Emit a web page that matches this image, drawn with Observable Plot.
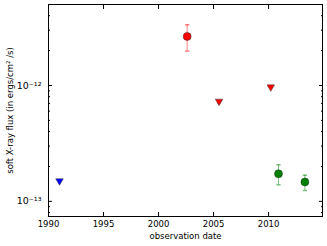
<!DOCTYPE html>
<html><head><meta charset="utf-8">
<script src="https://cdn.jsdelivr.net/npm/d3@7"></script>
<script src="https://cdn.jsdelivr.net/npm/@observablehq/plot@0.6"></script>
<style>body{margin:0;background:#fff} svg{display:block}</style>
</head><body><div id="chart"></div>
<script>
// detections (circles with error bars)
const detYear = [2002.6, 2010.9, 2013.3];
const detFlux = [2.65e-12, 1.73e-13, 1.47e-13];
const detLo = [1.98e-12, 1.39e-13, 1.24e-13];
const detHi = [3.34e-12, 2.07e-13, 1.68e-13];
const detColor = ["#ff0000", "#008000", "#008000"];
// upper limits (down triangles)
const limYear = [1991.0, 2005.5, 2010.2];
const limFlux = [1.5e-13, 7.3e-13, 9.7e-13];
const limColor = ["#0000ff", "#ff0000", "#ff0000"];
// ticks
const xTicks = [1990, 1995, 2000, 2005, 2010];
const yMajor = [1e-13, 1e-12];
const yMinor = [8e-14, 9e-14, 2e-13, 3e-13, 4e-13, 5e-13, 6e-13, 7e-13, 8e-13, 9e-13, 2e-12, 3e-12, 4e-12];
const xLabel = "observation date";
const yLabel = "soft X-ray flux (in ergs/cm² /s)";

const supMap = {"-": "⁻", "0": "⁰", "1": "¹", "2": "²", "3": "³", "4": "⁴", "5": "⁵", "6": "⁶", "7": "⁷", "8": "⁸", "9": "⁹"};
const fmtPow = d => "10" + String(Math.round(Math.log10(d))).split("").map(c => supMap[c]).join("");

const det = detYear.map((y, i) => ({year: y, flux: detFlux[i], lo: detLo[i], hi: detHi[i], color: detColor[i]}));
const lim = limYear.map((y, i) => ({year: y, flux: limFlux[i], color: limColor[i]}));

const capSymbol = {draw(ctx, size) { const w = Math.sqrt(size); ctx.moveTo(-w, 0); ctx.lineTo(w, 0); }};

const chart = Plot.plot({
  width: 327, height: 246,
  marginLeft: 48, marginRight: 5, marginTop: 4, marginBottom: 30,
  style: {fontFamily: "DejaVu Sans", fontSize: "8.5px", color: "black", background: "white"},
  x: {domain: [1990, 2014.9], label: null},
  y: {type: "log", domain: [7.4e-14, 5e-12], label: null},
  marks: [
    Plot.frame({stroke: "black", strokeWidth: 1}),
    Plot.axisX({ticks: xTicks, tickSize: 0, tickPadding: 4, tickFormat: d => String(d), label: null, fontSize: 8.5}),
    Plot.axisX({ticks: xTicks, tickSize: -4, tickFormat: () => "", label: null}),
    Plot.axisX({anchor: "top", ticks: xTicks, tickSize: -4, tickFormat: () => "", label: null}),
    Plot.axisY({ticks: yMajor, tickSize: 0, tickPadding: 7, tickFormat: fmtPow, label: null, fontSize: 9.5}),
    Plot.axisY({ticks: yMajor, tickSize: -4, tickFormat: () => "", label: null}),
    Plot.axisY({ticks: yMinor, tickSize: -2, tickFormat: () => "", label: null}),
    Plot.axisY({anchor: "right", ticks: yMajor, tickSize: -4, tickFormat: () => "", label: null}),
    Plot.axisY({anchor: "right", ticks: yMinor, tickSize: -2, tickFormat: () => "", label: null}),
    Plot.ruleX(det, {x: "year", y1: "lo", y2: "hi", stroke: "color", strokeOpacity: 0.5, strokeWidth: 1}),
    Plot.dot(det, {x: "year", y: "lo", symbol: capSymbol, r: 1.2, stroke: "color", strokeOpacity: 0.5, fill: "none"}),
    Plot.dot(det, {x: "year", y: "hi", symbol: capSymbol, r: 1.2, stroke: "color", strokeOpacity: 0.5, fill: "none"}),
    Plot.dot(det, {x: "year", y: "flux", r: 4, fill: "color", stroke: "#333", strokeWidth: 0.5}),
    Plot.dot(lim, {x: "year", y: "flux", symbol: "triangle", rotate: 180, r: 2.8, fill: "color", stroke: "#333", strokeWidth: 0.5}),
    Plot.text([xLabel], {frameAnchor: "bottom", dy: 22, text: d => d, fontSize: 8.5}),
    Plot.text([yLabel], {frameAnchor: "left", dx: -38, rotate: -90, textAnchor: "middle", text: d => d, fontSize: 8.5})
  ]
});
document.getElementById("chart").append(chart);
</script>
</body></html>
